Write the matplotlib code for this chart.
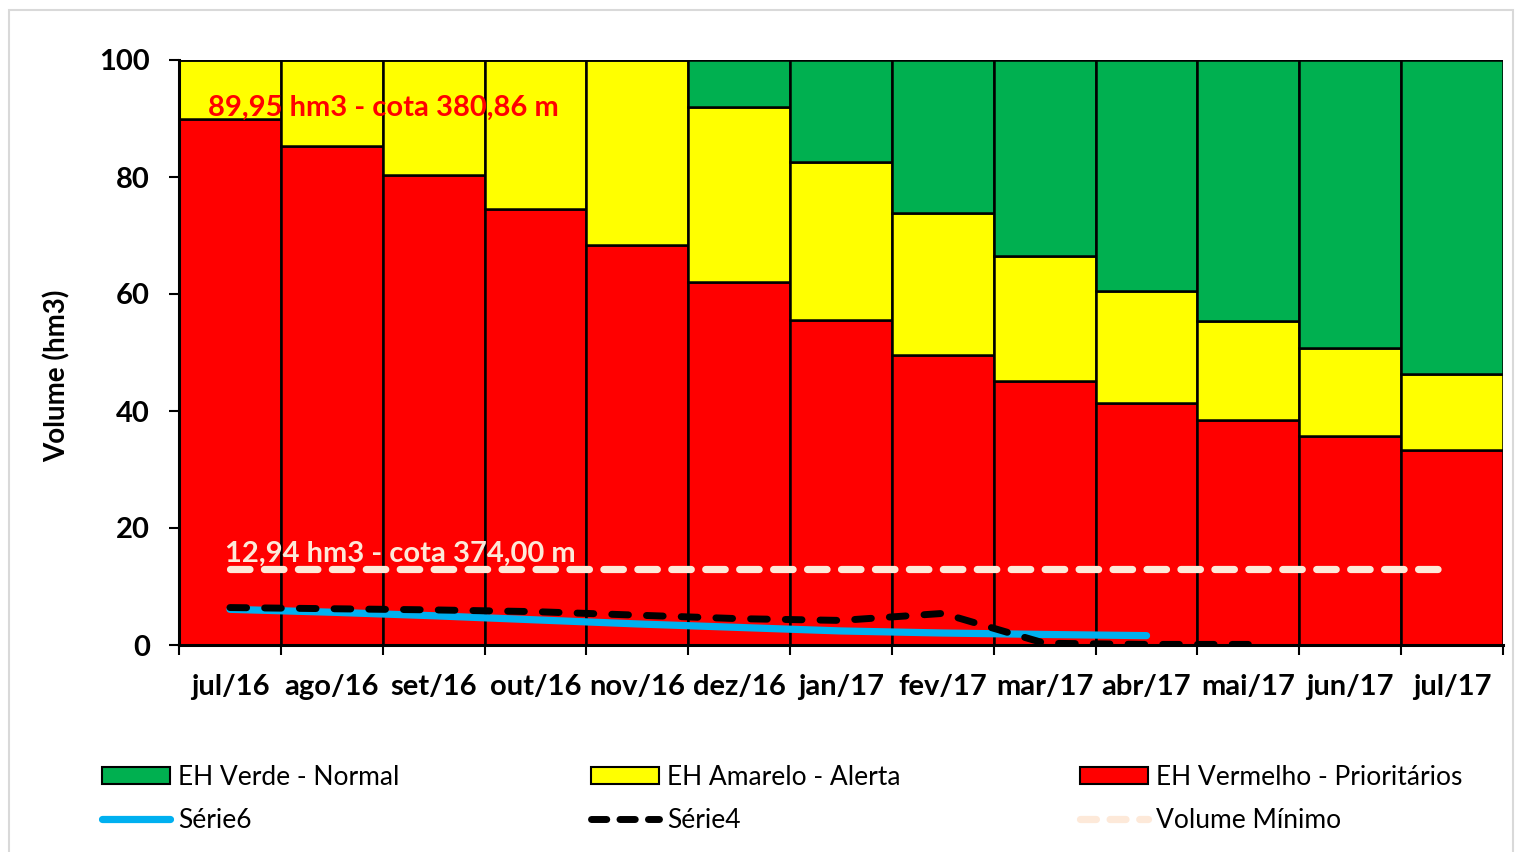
import numpy as np
import matplotlib
matplotlib.use("Agg")
import matplotlib.pyplot as plt
from matplotlib.patches import Patch, Rectangle
from matplotlib.lines import Line2D

plt.rcParams['font.family'] = ['Lato', 'DejaVu Sans']

# ---------------- data ----------------
months = ["jul/16", "ago/16", "set/16", "out/16", "nov/16", "dez/16", "jan/17",
          "fev/17", "mar/17", "abr/17", "mai/17", "jun/17", "jul/17"]
red_top = [89.95, 85.3, 80.3, 74.6, 68.3, 62.0, 55.5, 49.6, 45.1, 41.3, 38.4, 35.8, 33.3]
yellow_top = [100, 100, 100, 100, 100, 92.0, 82.6, 73.8, 66.5, 60.5, 55.4, 50.7, 46.3]
total = [100] * 13
serie6 = [6.1, 5.6, 5.0, 4.3, 3.6, 3.0, 2.4, 2.05, 1.8, 1.6]
serie4 = [6.4, 6.2, 6.0, 5.7, 5.1, 4.5, 4.2, 5.4, 0.3, 0.1, 0.1]
vol_min = [12.94] * 13

C_GREEN = "#00B050"
C_YELLOW = "#FFFF00"
C_RED = "#FF0000"
C_BLUE = "#00B0F0"
C_PEACH = "#FDE9D9"

W, H = 1517, 852
fig = plt.figure(figsize=(W / 100, H / 100), dpi=100)

# outer frame
fig.patches.append(Rectangle((9 / W, -0.05), (1513 - 9) / W, 1 - 10 / H + 0.05,
                             transform=fig.transFigure, fill=False,
                             edgecolor="#D9D9D9", lw=1.5, zorder=0))

ax = fig.add_axes([179 / W, 1 - 645 / H, (1503 - 179) / W, (645 - 60) / H])

x = np.arange(len(months))
red = np.array(red_top)
yel = np.array(yellow_top) - red
grn = np.array(total) - np.array(yellow_top)

ax.bar(x, red, width=1.0, color=C_RED, edgecolor="black", lw=1.8, zorder=2)
ax.bar(x, yel, width=1.0, bottom=red, color=C_YELLOW, edgecolor="black", lw=1.8, zorder=2)
ax.bar(x, grn, width=1.0, bottom=red + yel, color=C_GREEN, edgecolor="black", lw=1.8, zorder=2)

ax.plot(np.arange(len(serie6)), serie6, color=C_BLUE, lw=5.2, solid_capstyle="round", zorder=4)
ax.plot(np.arange(len(serie4)), serie4, color="black", lw=5.0, dash_capstyle="round",
        linestyle=(0, (2.4, 2.6)), zorder=5)
ax.plot(np.arange(len(vol_min)), vol_min, color=C_PEACH, lw=5.2, dash_capstyle="round",
        linestyle=(0, (2.7, 2.0)), zorder=6)

ax.text(-0.22, 91.8, "89,95 hm3 - cota 380,86 m", color=C_RED, fontsize=21,
        fontweight="bold", ha="left", va="center", zorder=7)
ax.text(-0.05, 15.6, "12,94 hm3 - cota 374,00 m", color=C_PEACH, fontsize=21,
        fontweight="bold", ha="left", va="center", zorder=7)

ax.set_xlim(-0.5, len(months) - 0.5)
ax.set_ylim(0, 100)
ax.set_yticks([0, 20, 40, 60, 80, 100])
ax.tick_params(axis="y", direction="out", length=7, width=1.5, pad=14,
               labelsize=21)
for lab in ax.get_yticklabels():
    lab.set_fontweight("bold")

ax.set_xticks(np.arange(-0.5, len(months), 1.0))
ax.set_xticklabels([])
ax.tick_params(axis="x", which="major", direction="out", length=7, width=1.5)
ax.set_xticks(x, minor=True)
ax.set_xticklabels(months, minor=True, fontsize=21, fontweight="bold")
ax.tick_params(axis="x", which="minor", length=0, pad=21)

for s in ["top", "right"]:
    ax.spines[s].set_visible(False)
ax.spines["left"].set_linewidth(2.2)
ax.spines["bottom"].set_linewidth(2.2)
ax.spines["left"].set_zorder(8)
ax.spines["bottom"].set_zorder(8)

ax.set_ylabel("Volume (hm3)", fontsize=20, fontweight="bold", labelpad=0)
ax.yaxis.set_label_coords(-0.082, 0.46)

# legends (three columns)
leg_kw = dict(loc="upper left", frameon=False, fontsize=19, borderpad=0,
              borderaxespad=0, handlelength=2.58, handletextpad=0.3,
              labelspacing=0.68, handleheight=0.62)
h1 = [Patch(facecolor=C_GREEN, edgecolor="black", lw=1.5),
      Line2D([], [], color=C_BLUE, lw=5.2, solid_capstyle="round")]
h2 = [Patch(facecolor=C_YELLOW, edgecolor="black", lw=1.5),
      Line2D([], [], color="black", lw=5.0, dash_capstyle="round", linestyle=(0, (2.2, 1.9)))]
h3 = [Patch(facecolor=C_RED, edgecolor="black", lw=1.5),
      Line2D([], [], color=C_PEACH, lw=5.2, dash_capstyle="round", linestyle=(0, (2.2, 1.9)))]
ytop = 1 - 765 / H
fig.legend(h1, ["EH Verde - Normal", "Série6"], bbox_to_anchor=(102 / W, ytop), **leg_kw)
fig.legend(h2, ["EH Amarelo - Alerta", "Série4"], bbox_to_anchor=(591 / W, ytop), **leg_kw)
fig.legend(h3, ["EH Vermelho - Prioritários", "Volume Mínimo"], bbox_to_anchor=(1080 / W, ytop), **leg_kw)

fig.savefig("out.png", dpi=100)
